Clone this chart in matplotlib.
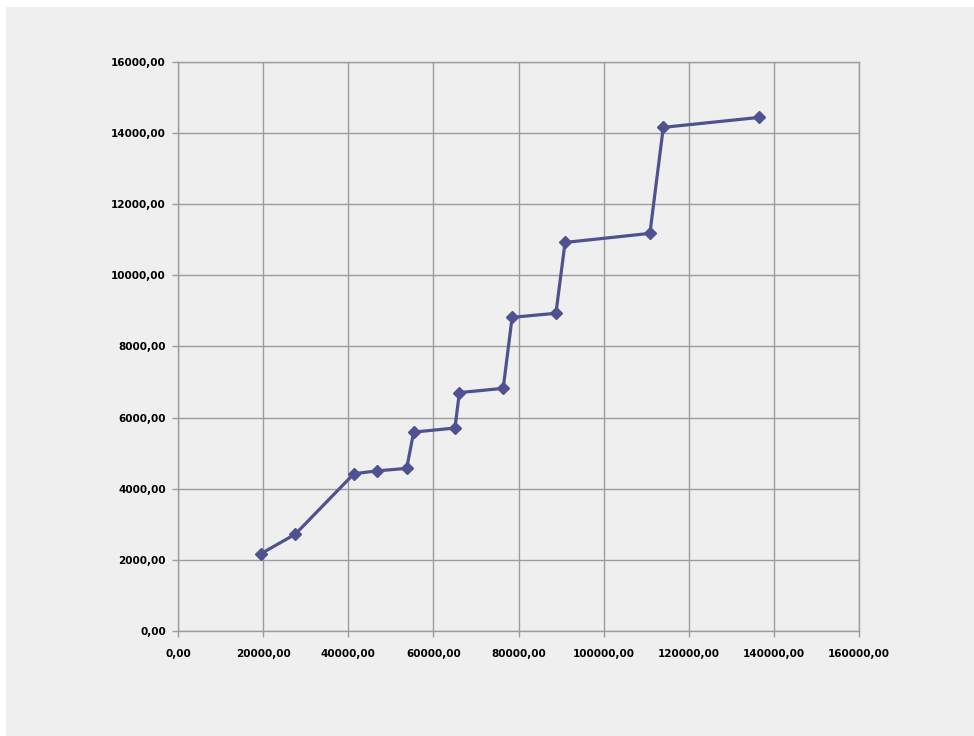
import matplotlib.pyplot as plt
import matplotlib.patches as mpatches
from matplotlib.ticker import FuncFormatter, MultipleLocator

# measurements
x_vals = [19400, 27500, 41300, 46700, 53700, 55350, 65050, 66100, 76400,
          78500, 88800, 90950, 110900, 114050, 136650]
y_vals = [2170, 2720, 4420, 4500, 4570, 5590, 5705, 6700, 6820,
          8815, 8930, 10920, 11175, 14155, 14435]

BG = '#efefef'
GRID = '#9c9c9c'
LINE = '#4f5190'


def comma_fmt(v, _pos):
    return f"{v:.2f}".replace('.', ',')


def main():
    fig = plt.figure(figsize=(9.74, 7.36), dpi=100, facecolor='white')
    # grey chart area, inset slightly from the top-left
    fig.patches.append(mpatches.Rectangle((6 / 974, 0), 1 - 6 / 974, 1 - 7 / 736,
                                          transform=fig.transFigure,
                                          facecolor=BG, edgecolor='none', zorder=-5))

    ax = fig.add_axes([178.3 / 974, 105 / 736, 680.4 / 974, 569.3 / 736])
    ax.set_zorder(2)
    ax.set_facecolor(BG)

    ax.plot(x_vals, y_vals, color=LINE, lw=2.3, marker='D', ms=6,
            markeredgecolor=LINE, markerfacecolor=LINE, zorder=3)

    ax.set_xlim(0, 160000)
    ax.set_ylim(0, 16000)
    ax.xaxis.set_major_locator(MultipleLocator(20000))
    ax.yaxis.set_major_locator(MultipleLocator(2000))
    ax.xaxis.set_major_formatter(FuncFormatter(comma_fmt))
    ax.yaxis.set_major_formatter(FuncFormatter(comma_fmt))

    ax.grid(True, color=GRID, lw=1.0)
    ax.set_axisbelow(True)
    for side in ('left', 'bottom', 'top', 'right'):
        ax.spines[side].set_color(GRID)
        ax.spines[side].set_linewidth(1.0)

    ax.tick_params(axis='both', direction='out', length=4, width=1.0,
                   color=GRID, labelsize=7.5, pad=5)
    ax.tick_params(axis='x', pad=9)
    for lbl in ax.get_xticklabels() + ax.get_yticklabels():
        lbl.set_fontweight('bold')
        lbl.set_fontfamily('DejaVu Sans')

    fig.savefig('out.png', dpi=100, facecolor='white')


if __name__ == "__main__":
    main()
